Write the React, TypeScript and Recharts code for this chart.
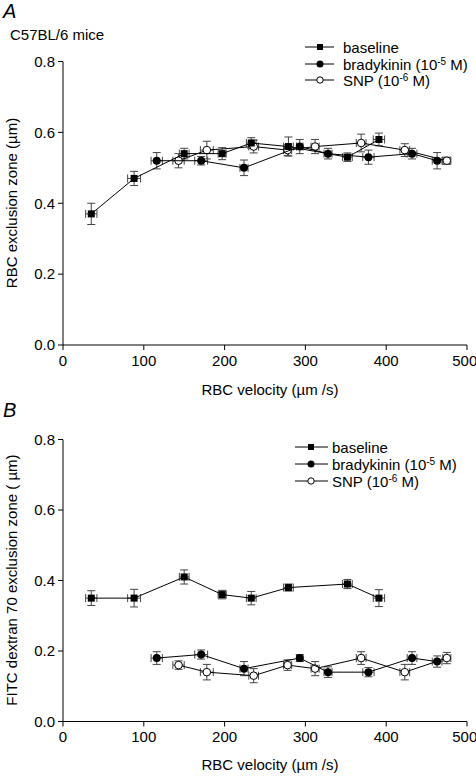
import React from 'react';
import { ScatterChart, Scatter, XAxis, YAxis, ErrorBar } from 'recharts';

const FONT = '"Liberation Sans", Arial, Helvetica, sans-serif';

const xTicks = [0, 100, 200, 300, 400, 500];
const yTicks = [0, 0.2, 0.4, 0.6, 0.8];

// RBC velocity bins (µm/s) and their SEM
const baselineVel = [35, 88, 150, 197, 233, 279, 352, 391];
const baselineVelErr = [7, 8, 6, 5, 6, 6, 6, 7];
const bradykininVel = [116, 171, 224, 293, 328, 378, 432, 463];
const bradykininVelErr = [7, 8, 5, 4, 5, 7, 6, 6];
const snpVel = [143, 178, 236, 278, 312, 369, 423, 475];
const snpVelErr = [7, 8, 6, 5, 5, 6, 6, 5];

// Panel A: RBC exclusion zone (µm)
const rbcBaseline = [0.37, 0.47, 0.54, 0.54, 0.57, 0.56, 0.53, 0.58];
const rbcBaselineErr = [0.03, 0.02, 0.015, 0.017, 0.015, 0.027, 0.012, 0.018];
const rbcBradykinin = [0.52, 0.52, 0.5, 0.56, 0.54, 0.53, 0.54, 0.52];
const rbcBradykininErr = [0.023, 0.012, 0.022, 0.02, 0.015, 0.02, 0.015, 0.023];
const rbcSnp = [0.52, 0.55, 0.56, 0.55, 0.56, 0.57, 0.55, 0.52];
const rbcSnpErr = [0.02, 0.025, 0.018, 0.015, 0.02, 0.025, 0.018, 0.01];

// Panel B: FITC dextran 70 exclusion zone (µm)
const fitcBaseline = [0.35, 0.35, 0.41, 0.36, 0.35, 0.38, 0.39, 0.35];
const fitcBaselineErr = [0.021, 0.025, 0.02, 0.012, 0.019, 0.01, 0.013, 0.024];
const fitcBradykinin = [0.18, 0.19, 0.15, 0.18, 0.14, 0.14, 0.18, 0.17];
const fitcBradykininErr = [0.018, 0.013, 0.02, 0.01, 0.015, 0.013, 0.018, 0.016];
const fitcSnp = [0.16, 0.14, 0.13, 0.16, 0.15, 0.18, 0.14, 0.18];
const fitcSnpErr = [0.012, 0.022, 0.02, 0.015, 0.02, 0.018, 0.022, 0.016];

type Pt = { x: number; y: number; ex: number; ey: number };
const build = (xs: number[], exs: number[], ys: number[], eys: number[]): Pt[] =>
  xs.map((x, i) => ({ x, y: ys[i], ex: exs[i], ey: eys[i] }));

const SquareShape = (p: any) => (
  <rect x={p.cx - 3.5} y={p.cy - 3.5} width={7} height={7} fill="#000" />
);
const DotShape = (p: any) => <circle cx={p.cx} cy={p.cy} r={4} fill="#000" />;
const OpenShape = (p: any) => (
  <circle cx={p.cx} cy={p.cy} r={3.8} fill="#fff" stroke="#000" strokeWidth={1} />
);

const tickStyle = { fill: '#000', fontSize: 15, fontFamily: FONT };

function Panel(props: { top: number; base: Pt[]; brady: Pt[]; snp: Pt[]; bottomMargin: number }) {
  const { top, base, brady, snp, bottomMargin } = props;
  const line = { stroke: '#000', strokeWidth: 1 };
  const eb = (dir: 'x' | 'y') => (
    <ErrorBar
      dataKey={dir === 'x' ? 'ex' : 'ey'}
      direction={dir}
      width={4}
      stroke="#444"
      strokeWidth={1}
      isAnimationActive={false}
    />
  );
  return (
    <div style={{ position: 'absolute', left: 0, top }}>
      <ScatterChart
        width={476}
        height={400}
        margin={{ top: 61.5, right: 9, left: 13, bottom: bottomMargin }}
      >
        <XAxis
          type="number"
          dataKey="x"
          domain={[0, 500]}
          ticks={xTicks}
          allowDataOverflow
          height={30}
          tickSize={5}
          tickMargin={5}
          stroke="#000"
          tick={tickStyle}
          tickLine={{ stroke: '#000' }}
          axisLine={{ stroke: '#000' }}
        />
        <YAxis
          type="number"
          dataKey="y"
          domain={[0, 0.8]}
          ticks={yTicks}
          allowDataOverflow
          width={50}
          tickSize={5}
          tickMargin={3}
          stroke="#000"
          tick={tickStyle}
          tickFormatter={(v: number) => v.toFixed(1)}
          tickLine={{ stroke: '#000' }}
          axisLine={{ stroke: '#000' }}
        />
        <Scatter data={snp} line={line} lineType="joint" shape={OpenShape} isAnimationActive={false}>
          {eb('x')}
          {eb('y')}
        </Scatter>
        <Scatter data={brady} line={line} lineType="joint" shape={DotShape} isAnimationActive={false}>
          {eb('x')}
          {eb('y')}
        </Scatter>
        <Scatter data={base} line={line} lineType="joint" shape={SquareShape} isAnimationActive={false}>
          {eb('x')}
          {eb('y')}
        </Scatter>
      </ScatterChart>
    </div>
  );
}

function LegendBlock(props: { rows: number[]; x1: number; x2: number; mx: number; tx: number }) {
  const { rows, x1, x2, mx, tx } = props;
  const txt = { fontFamily: FONT, fontSize: 15, fill: '#000' } as const;
  return (
    <g>
      {rows.map((cy, i) => (
        <g key={i}>
          <line x1={x1} x2={x2} y1={cy} y2={cy} stroke="#000" strokeWidth={1} />
          {i === 0 && <rect x={mx - 3} y={cy - 3} width={6} height={6} fill="#000" />}
          {i === 1 && <circle cx={mx} cy={cy} r={3.5} fill="#000" />}
          {i === 2 && <circle cx={mx} cy={cy} r={3.2} fill="#fff" stroke="#000" />}
        </g>
      ))}
      <text x={tx} y={rows[0] + 5.5} {...txt}>baseline</text>
      <text x={tx} y={rows[1] + 5.5} {...txt}>
        bradykinin (10<tspan dy={-5} fontSize={10}>-5</tspan>
        <tspan dy={5}> M)</tspan>
      </text>
      <text x={tx} y={rows[2] + 5.5} {...txt}>
        SNP (10<tspan dy={-5} fontSize={10}>-6</tspan>
        <tspan dy={5}> M)</tspan>
      </text>
    </g>
  );
}

export default function App() {
  const txt = { fontFamily: FONT, fontSize: 15, fill: '#000' } as const;
  return (
    <div style={{ position: 'absolute', left: 0, top: 0, width: 476, height: 778, background: '#fff' }}>
      <Panel
        top={0}
        bottomMargin={25}
        base={build(baselineVel, baselineVelErr, rbcBaseline, rbcBaselineErr)}
        brady={build(bradykininVel, bradykininVelErr, rbcBradykinin, rbcBradykininErr)}
        snp={build(snpVel, snpVelErr, rbcSnp, rbcSnpErr)}
      />
      <Panel
        top={378}
        bottomMargin={26.5}
        base={build(baselineVel, baselineVelErr, fitcBaseline, fitcBaselineErr)}
        brady={build(bradykininVel, bradykininVelErr, fitcBradykinin, fitcBradykininErr)}
        snp={build(snpVel, snpVelErr, fitcSnp, fitcSnpErr)}
      />
      <svg
        width={476}
        height={778}
        style={{ position: 'absolute', left: 0, top: 0, pointerEvents: 'none' }}
      >
        <text x={3} y={18} fontFamily={FONT} fontSize={20} fontStyle="italic" fill="#000">A</text>
        <text x={3} y={417} fontFamily={FONT} fontSize={20} fontStyle="italic" fill="#000">B</text>
        <text x={10} y={40} {...txt}>C57BL/6 mice</text>
        <text x={17} y={203} textAnchor="middle" transform="rotate(-90 17 203)" {...txt}>
          RBC exclusion zone (µm)
        </text>
        <text x={17} y={580} textAnchor="middle" transform="rotate(-90 17 580)" {...txt}>
          FITC dextran 70 exclusion zone ( µm)
        </text>
        <text x={270} y={395} textAnchor="middle" {...txt}>RBC velocity (µm /s)</text>
        <text x={270} y={770} textAnchor="middle" {...txt}>RBC velocity (µm /s)</text>
        <LegendBlock rows={[47, 64, 80]} x1={305} x2={334} mx={320} tx={343} />
        <LegendBlock rows={[447, 464, 481]} x1={295} x2={328} mx={311} tx={332} />
      </svg>
    </div>
  );
}
